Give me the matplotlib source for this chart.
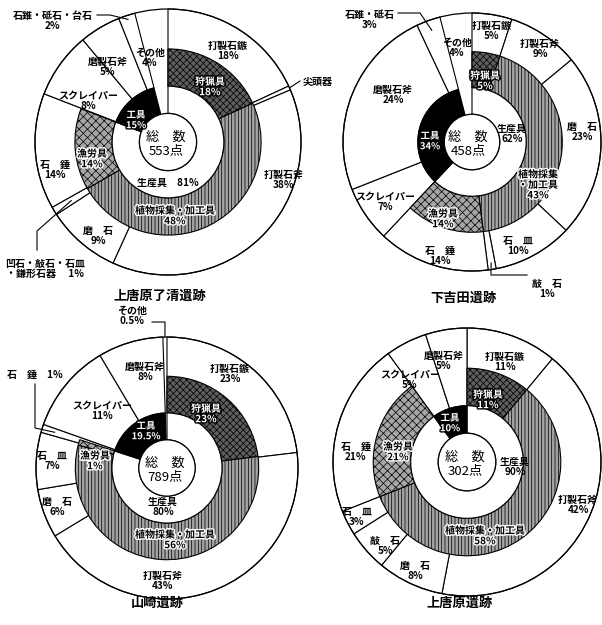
import numpy as np
import matplotlib
matplotlib.use('Agg')
import matplotlib.pyplot as plt
from matplotlib.patches import Circle
import matplotlib.patheffects as pe

plt.rcParams['font.family'] = ['Noto Sans CJK JP', 'DejaVu Sans']
plt.rcParams['hatch.linewidth'] = 0.5

W, H = 602, 625

GROUPS = ['狩猟具', '植物採集・加工具', '漁労具', '工具', 'その他']

# 上唐原了清遺跡
title_1 = '上唐原了清遺跡'
items_1 = ['打製石鏃', '尖頭器', '打製石斧', '磨　石', '凹石・敲石・石皿・鎌形石器',
           '石　錘', 'スクレイパー', '磨製石斧', '石錐・砥石・台石', 'その他']
pct_1 = [18, 0.5, 38, 9, 1, 14, 8, 5, 2, 4]
group_pct_1 = [18, 48, 14, 15, 4]
prod_1 = 81
total_1 = 553

# 下吉田遺跡
title_2 = '下吉田遺跡'
items_2 = ['打製石鏃', '打製石斧', '磨　石', '石　皿', '敲　石',
           '石　錘', 'スクレイパー', '磨製石斧', '石錐・砥石', 'その他']
pct_2 = [5, 9, 23, 10, 1, 14, 7, 24, 3, 4]
group_pct_2 = [5, 43, 14, 34, 4]
prod_2 = 62
total_2 = 458

# 山崎遺跡
title_3 = '山崎遺跡'
items_3 = ['打製石鏃', '打製石斧', '磨　石', '石　皿', '石　錘',
           'スクレイパー', '磨製石斧', 'その他']
pct_3 = [23, 43, 6, 7, 1, 11, 8, 0.5]
group_pct_3 = [23, 56, 1, 19.5, 0.5]
prod_3 = 80
total_3 = 789

# 上唐原遺跡
title_4 = '上唐原遺跡'
items_4 = ['打製石鏃', '打製石斧', '磨　石', '敲　石', '石　皿',
           '石　錘', 'スクレイパー', '磨製石斧']
pct_4 = [11, 42, 8, 5, 3, 21, 5, 5]
group_pct_4 = [11, 58, 21, 10]
prod_4 = 90
total_4 = 302

GROUP_FC = {'狩猟具': '#5e5e5e', '植物採集・加工具': '#a2a2a2', '漁労具': '#a6a6a6'}
GROUP_HATCH = {'狩猟具': 'xxxxx', '植物採集・加工具': '|||||', '漁労具': 'xxxx'}

# layout (pixel positions in the 602x625 picture)
lay_1 = dict(c=(168, 142), R=133, title_xy=(160, 296), total_xy=(166, 144),
             item_xy=[(228, 51), None, (284, 180), (98, 236), None, (55, 170),
                      (88, 101), (108, 67), None, (150, 58)],
             callouts=[dict(i=1, r=1.0, path=[(300, 81)], xy=(303, 82), ha='left', tpl='{n}'),
                       dict(i=8, r=0.97, path=[(110, 15), (97, 15)], xy=(53, 21), ha='center', tpl='{n}\n{p}'),
                       dict(i=4, r=0.85, path=[(37, 231), (37, 250)], xy=(5, 269), ha='left',
                            tpl='凹石・敲石・石皿\n・鎌形石器　 {p}')],
             group_xy=[(210, 87), (175, 216), (92, 159), (136, 120), None],
             group_tpl={}, prod_xy=(168, 183), prod_tpl='{n}　{p}')
lay_2 = dict(c=(472, 142), R=129, title_xy=(463, 298), total_xy=(468, 144),
             item_xy=[(492, 31), (540, 49), (582, 132), (518, 246), None, (440, 256),
                      (385, 202), (393, 95), None, (457, 48)],
             callouts=[dict(i=8, r=0.92, path=[(420, 13), (398, 13)], xy=(370, 20), ha='center', tpl='{n}\n{p}'),
                       dict(i=4, r=0.95, path=[(491, 275), (527, 275)], xy=(547, 289), ha='center', tpl='{n}\n{p}')],
             group_xy=[(485, 81), (538, 185), (443, 219), (430, 141), None],
             group_tpl={}, prod_xy=(512, 134), prod_tpl='{n}\n{p}')
lay_2['group_tpl'] = {1: '植物採集\n・加工具\n{p}'}
lay_3 = dict(c=(167, 468), R=131, title_xy=(157, 603), total_xy=(165, 470),
             item_xy=[(230, 374), (163, 581), (57, 507), (52, 461), None,
                      (102, 411), (145, 372), None],
             callouts=[dict(i=4, r=0.9, path=[(35, 428), (35, 384)], xy=(35, 375), ha='center', tpl='{n}　{p}'),
                       dict(i=7, r=1.0, path=[(165, 322), (152, 322)], xy=(132, 316), ha='center', tpl='{n}\n{p}')],
             group_xy=[(206, 414), (175, 540), (95, 461), (146, 431), None],
             group_tpl={}, prod_xy=(163, 507), prod_tpl='{n}\n{p}')
lay_4 = dict(c=(467, 462), R=134, title_xy=(460, 603), total_xy=(465, 464),
             item_xy=[(505, 362), (578, 505), (415, 571), (385, 546), (357, 517),
                      (356, 452), (410, 380), (444, 361)],
             callouts=[],
             group_xy=[(488, 400), (485, 536), (398, 452), (450, 423)],
             group_tpl={}, prod_xy=(515, 467), prod_tpl='{n}\n{p}')


def fmt(v):
    return f'{v:g}%'


def flip(x, y):
    return x, H - y


def polar(c, R, vals, i, r):
    vals = np.asarray(vals, float)
    frac = (vals[:i].sum() + vals[i] / 2) / vals.sum()
    th = 2 * np.pi * frac
    return c[0] + r * R * np.sin(th), c[1] - r * R * np.cos(th)


def put(ax, xy, s, size=7.2, color='black', halo=None, ha='center', weight='bold', ls=1.05):
    x, y = flip(*xy)
    t = ax.text(x, y, s, ha=ha, va='center', fontsize=size, fontweight=weight,
                color=color, linespacing=ls, zorder=6, multialignment='center')
    if halo:
        t.set_path_effects([pe.withStroke(linewidth=2, foreground=halo)])
    return t


def draw_chart(ax, items, pct, gpct, prod, total, title, lay):
    c, R = lay['c'], lay['R']
    ctr = flip(*c)
    r0, r1, r2 = 0.215 * R, 0.42 * R, 0.70 * R
    n = len(gpct)
    has_other = n == 5
    pie_kw = dict(center=ctr, startangle=90, counterclock=False)

    # items: white wedges from r1 out to R
    w_out, _ = ax.pie(pct, radius=R, colors=['white'] * len(pct),
                      wedgeprops=dict(width=R - r1, ec='black', lw=0.8), **pie_kw)
    # production groups: hatched ring r1..r2
    w_grp, _ = ax.pie(gpct, radius=r2, colors=['white'] * n,
                      wedgeprops=dict(width=r2 - r1, ec='black', lw=0.8), **pie_kw)
    for w, g in zip(w_grp, GROUPS[:n]):
        if g in GROUP_FC:
            w.set_facecolor(GROUP_FC[g])
            w.set_hatch(GROUP_HATCH[g])
        else:
            w.set_visible(False)
    # inner ring r0..r1: 生産具 (white), 工具 (black), その他 (white)
    inner = [sum(gpct[:3])] + list(gpct[3:])
    w_in, _ = ax.pie(inner, radius=r1, colors=['white', 'black', 'white'][:len(inner)],
                     wedgeprops=dict(width=r1 - r0, ec='black', lw=0.8), **pie_kw)
    if has_other:
        for w in (w_out[-1], w_in[-1]):
            w.set_edgecolor('none')
            w.set_zorder(0.9)
    ax.add_patch(Circle(ctr, R, fill=False, ec='black', lw=0.9, zorder=2))
    ax.add_patch(Circle(ctr, r0, fc='white', ec='black', lw=0.9, zorder=3))

    # item labels
    for name, v, xy in zip(items, pct, lay['item_xy']):
        if xy is not None:
            put(ax, xy, f'{name}\n{fmt(v)}')
    for co in lay['callouts']:
        i = co['i']
        pts = [polar(c, R, pct, i, co['r'])] + co['path']
        xs, ys = zip(*[flip(*p) for p in pts])
        ax.plot(xs, ys, color='black', lw=0.8, zorder=5)
        put(ax, co['xy'], co['tpl'].format(n=items[i], p=fmt(pct[i])), ha=co['ha'])

    # group labels
    for k, (g, v, xy) in enumerate(zip(GROUPS[:n], gpct, lay['group_xy'])):
        if xy is None:
            continue
        s = lay['group_tpl'].get(k, '{n}\n{p}').format(n=g, p=fmt(v))
        if g == '工具':
            put(ax, xy, s, color='white', halo='black', size=6.8)
        elif g == '狩猟具':
            put(ax, xy, s, color='white', halo='black')
        else:
            put(ax, xy, s, halo='white')
    put(ax, lay['prod_xy'], lay['prod_tpl'].format(n='生産具', p=fmt(prod)))
    put(ax, lay['total_xy'], f'総　数\n{total}点', size=9.5, weight='normal', ls=0.95)
    put(ax, lay['title_xy'], title, size=9.5)


fig = plt.figure(figsize=(W / 100, H / 100), dpi=100)
ax = fig.add_axes([0, 0, 1, 1])

draw_chart(ax, items_1, pct_1, group_pct_1, prod_1, total_1, title_1, lay_1)
draw_chart(ax, items_2, pct_2, group_pct_2, prod_2, total_2, title_2, lay_2)
draw_chart(ax, items_3, pct_3, group_pct_3, prod_3, total_3, title_3, lay_3)
draw_chart(ax, items_4, pct_4, group_pct_4, prod_4, total_4, title_4, lay_4)

ax.set_xlim(0, W)
ax.set_ylim(0, H)
ax.set_aspect('equal')
ax.axis('off')

fig.savefig('out.png', dpi=100, facecolor='white')
